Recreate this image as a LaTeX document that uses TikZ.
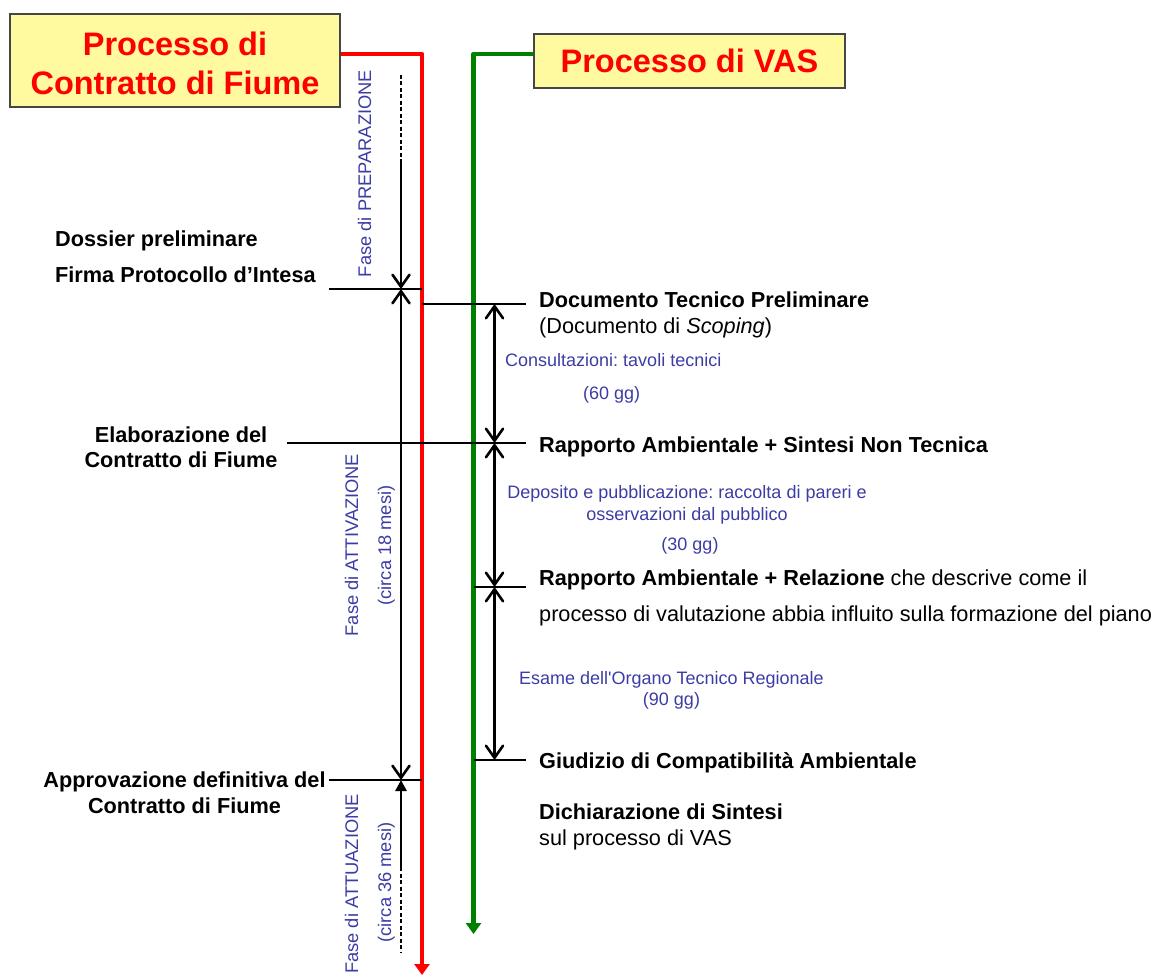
\documentclass[tikz,border=0pt]{standalone}
\usepackage{fontspec}
\setmainfont{Liberation Sans}
\usetikzlibrary{arrows.meta}
\definecolor{boxyellow}{RGB}{255,249,160}
\definecolor{boxedge}{RGB}{70,70,70}
\definecolor{fasetext}{RGB}{60,60,165}
\definecolor{vasgreen}{RGB}{0,128,0}
\definecolor{cfred}{RGB}{255,0,0}
\frenchspacing
\begin{document}
\begin{tikzpicture}[x=1pt,y=-1pt,
  titlebox/.style={draw=boxedge, line width=1.5pt, fill=boxyellow, text=cfred,
    font=\fontsize{32.5}{39}\selectfont\bfseries, align=center, inner sep=0pt},
  lbl/.style={font=\fontsize{21.7}{25.5}\selectfont\bfseries, inner sep=0pt},
  lblreg/.style={font=\fontsize{21.7}{26}\selectfont, inner sep=0pt},
  note/.style={font=\fontsize{18}{22}\selectfont, text=fasetext, inner sep=0pt},
  fase/.style={font=\fontsize{18.3}{22}\selectfont, text=fasetext, inner sep=0pt, rotate=90},
  tick/.style={line width=1.4pt},
  mainline/.style={line width=4.5pt, line join=round, -{Triangle[length=11pt,width=15pt]}},
  barb/.tip={Straight Barb[length=12pt,width=17pt,line cap=round]},
  dimarr/.style={line width=2.6pt, -barb},
  dimboth/.style={line width=2.6pt, barb-barb},
  uparr/.style={line width=2.6pt, -{Triangle[length=11pt,width=11pt]}},
  dashpart/.style={line width=2.6pt, dash pattern=on 4pt off 2.5pt}
]
\useasboundingbox (0,0) rectangle (1153,976);

% title boxes
\node[titlebox, minimum width=330pt, minimum height=93pt] (lbox) at (175,60.5) {\rule{0pt}{28.5pt}Processo di\\Contratto di Fiume};
\node[titlebox, minimum width=311pt, minimum height=54pt] (vbox) at (689.5,61) {Processo di VAS};

% main process lines
\coordinate (redtop) at (422,54);
\coordinate (redend) at (422,975);
\coordinate (greentop) at (473.5,54);
\coordinate (greenend) at (473.5,934);
\draw[mainline, draw=cfred] (lbox.east |- redtop) -- (redtop) -- (redend);
\draw[mainline, draw=vasgreen] (vbox.west |- greentop) -- (greentop) -- (greenend);

% tick lines
\coordinate (t1a) at (329,289);   \coordinate (t1b) at (422,289);
\coordinate (t2a) at (422,304);   \coordinate (t2b) at (526,304);
\coordinate (t3a) at (287,443);   \coordinate (t3b) at (526,443);
\coordinate (t4a) at (473.5,587); \coordinate (t4b) at (526,587);
\coordinate (t5a) at (473.5,760); \coordinate (t5b) at (526,760);
\coordinate (t6a) at (329,780);   \coordinate (t6b) at (422,780);
\foreach \a/\b in {t1a/t1b,t2a/t2b,t3a/t3b,t4a/t4b,t5a/t5b,t6a/t6b}
  \draw[tick] (\a) -- (\b);

% phase arrows (Contratto di Fiume)
\coordinate (p0) at (401,75);
\coordinate (p1) at (401,163);
\coordinate (p2) at (401,289);
\coordinate (p3) at (401,780);
\coordinate (p4) at (401,867);
\coordinate (p5) at (401,953);
\draw[dashpart] (p0) -- (p1);
\draw[dimarr] (p1) -- (p2);
\draw[dimboth] (p2) -- (p3);
\draw[uparr] (p4) -- (p3);
\draw[dashpart] (p4) -- (p5);

% VAS arrows
\coordinate (v1) at (494.5,304);
\coordinate (v2) at (494.5,443);
\coordinate (v3) at (494.5,587);
\coordinate (v4) at (494.5,760);
\draw[dimboth] (v1) -- (v2);
\draw[dimboth] (v2) -- (v3);
\draw[dimboth] (v3) -- (v4);

% phase labels
\node[fase] (fprep) at (364.5,173.5) {Fase di PREPARAZIONE};
\node[fase] (fatt) at (351.5,545) {Fase di ATTIVAZIONE};
\node[fase] (fatt2) at (386.5,545.5) {(circa 18 mesi)};
\node[fase] (fattu) at (351.5,884) {Fase di ATTUAZIONE};
\node[fase] (fattu2) at (386.5,882.5) {(circa 36 mesi)};

% left labels
\node[lbl, anchor=base west] (dossier) at (55,247) {Dossier preliminare};
\node[lbl, anchor=base west] (firma) at (55,283) {Firma Protocollo d’Intesa};
\node[lbl, align=center] (elab) at (181,447) {Elaborazione del\\Contratto di Fiume};
\node[lbl, align=center] (appr) at (184.5,792.5) {Approvazione definitiva del\\Contratto di Fiume};

% right labels
\node[lbl, anchor=base west] (dtp) at (539,307) {Documento Tecnico Preliminare};
\node[lblreg, anchor=base west] (dtp2) at (539,333) {(Documento di \textit{Scoping})};
\node[note, anchor=base west] (cons) at (505,366) {Consultazioni: tavoli tecnici};
\node[note, anchor=base west] (gg60) at (583,399) {(60 gg)};
\node[lbl, anchor=base west] (ra1) at (539,452) {Rapporto Ambientale + Sintesi Non Tecnica};
\node[note, anchor=base] (dep1) at (687,498) {Deposito e pubblicazione: raccolta di pareri e};
\node[note, anchor=base] (dep2) at (687,520) {osservazioni dal pubblico};
\node[note, anchor=base] (gg30) at (690,550) {(30 gg)};
\node[lbl, anchor=base west] (ra2) at (539,585) {Rapporto Ambientale + Relazione\mdseries{} che descrive come il};
\node[lblreg, anchor=base west] (ra2b) at (539,621) {processo di valutazione abbia influito sulla formazione del piano};
\node[note, anchor=base] (esame) at (671.5,684) {Esame dell\textquotesingle Organo Tecnico Regionale};
\node[note, anchor=base] (gg90) at (671.5,705) {(90 gg)};
\node[lbl, anchor=base west] (giud) at (539,768) {Giudizio di Compatibilità Ambientale};
\node[lbl, anchor=base west] (dich) at (539,819) {Dichiarazione di Sintesi};
\node[lblreg, anchor=base west] (dich2) at (539,845) {sul processo di VAS};
\end{tikzpicture}
\end{document}
